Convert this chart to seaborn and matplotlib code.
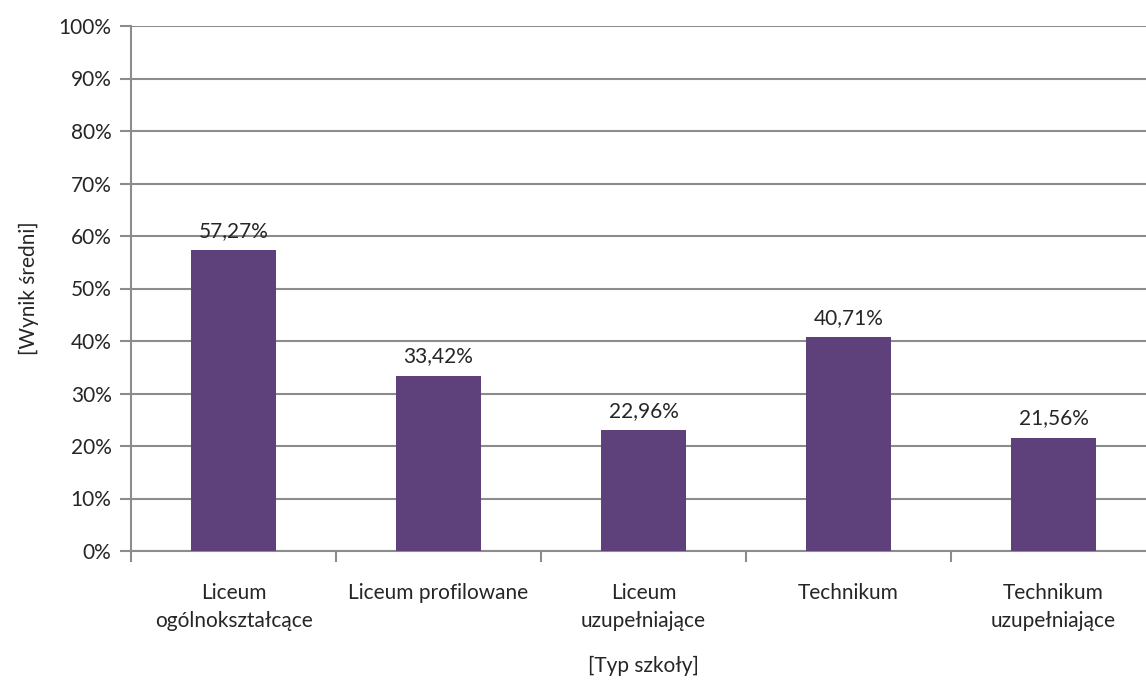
import matplotlib
matplotlib.use("Agg")
import matplotlib.pyplot as plt
import seaborn as sns
import pandas as pd

categories = ["Liceum\nogólnokształcące", "Liceum profilowane", "Liceum\nuzupełniające",
              "Technikum", "Technikum\nuzupełniające"]
values = [57.27, 33.42, 22.96, 40.71, 21.56]
yticks = list(range(0, 101, 10))

sns.set_theme(style="white")
plt.rcParams['font.family'] = ['Lato', 'DejaVu Sans']

df = pd.DataFrame({"cat": categories, "val": values})
fig = plt.figure(figsize=(11.46, 6.83), dpi=100)
W, H = 1146, 683
ax = fig.add_axes([131 / W, 1 - 551 / H, 1025 / W, 525 / H])

FS = 15
sns.barplot(data=df, x="cat", y="val", color="#5E417A", saturation=1, width=0.41, ax=ax,
            zorder=3, linewidth=0, edgecolor="none")
ax.set_ylim(0, 100)
ax.set_xlim(-0.5, 4.5)
ax.set_yticks(yticks)
ax.set_yticklabels([f"{t}%" for t in yticks], fontsize=FS)
ax.yaxis.grid(True, color="#8C8C8C", linewidth=1.5, zorder=0)
ax.set_axisbelow(True)
for s in ["top", "right"]:
    ax.spines[s].set_visible(False)
for s in ["left", "bottom"]:
    ax.spines[s].set_color("#8C8C8C")
    ax.spines[s].set_linewidth(1.5)
ax.set_xticks([i for i in range(5)])
ax.set_xticklabels(categories, fontsize=FS, linespacing=1.5)
ax.tick_params(axis="x", length=0, pad=23)
ax.tick_params(axis="y", length=8, width=1.5, color="#8C8C8C", direction="out", left=True, pad=6)
ax.set_xticks([i + 0.5 for i in range(-1, 5)], minor=True)
ax.tick_params(axis="x", which="minor", length=8, width=1.5, color="#8C8C8C", bottom=True, direction="out")

for i, v in enumerate(values):
    ax.text(i, v + 1.8, f"{v:.2f}%".replace(".", ","), ha="center", va="bottom", fontsize=FS)

ax.set_xlabel("[Typ szkoły]", fontsize=FS, labelpad=18)
ax.set_ylabel("[Wynik średni]", fontsize=FS, labelpad=14)

fig.savefig("out.png", dpi=100)
